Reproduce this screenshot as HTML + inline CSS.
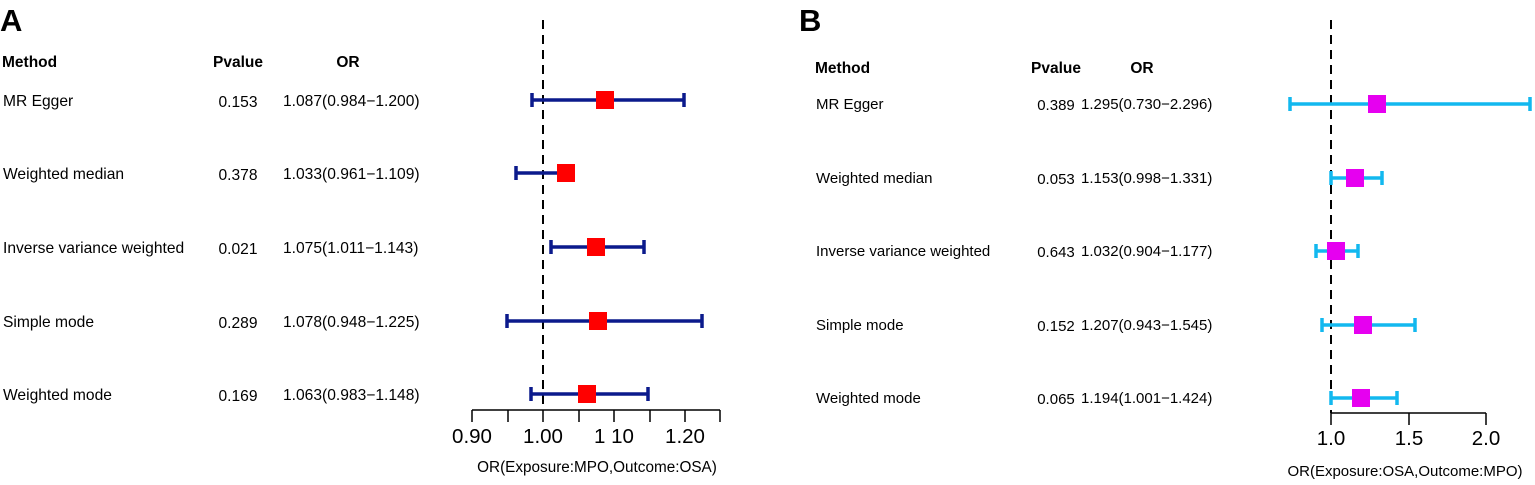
<!DOCTYPE html>
<html><head><meta charset="utf-8"><style>
html,body{margin:0;padding:0;background:#fff;}
svg{display:block;font-family:"Liberation Sans",Arial,sans-serif;}
</style></head><body>
<svg width="1535" height="485" viewBox="0 0 1535 485" xmlns="http://www.w3.org/2000/svg">
<!-- Panel A -->
<text x="0" y="31" font-size="31" font-weight="bold">A</text>
<g font-size="15.5" font-weight="bold">
<text x="2" y="67">Method</text>
<text x="238" y="67" text-anchor="middle">Pvalue</text>
<text x="348" y="67" text-anchor="middle">OR</text>
</g>
<g font-size="15.6">
<text x="3" y="106">MR Egger</text><text x="238" y="107" text-anchor="middle">0.153</text><text x="283" y="106">1.087(0.984−1.200)</text>
<text x="3" y="179">Weighted median</text><text x="238" y="180" text-anchor="middle">0.378</text><text x="283" y="179">1.033(0.961−1.109)</text>
<text x="3" y="253">Inverse variance weighted</text><text x="238" y="254" text-anchor="middle">0.021</text><text x="283" y="253">1.075(1.011−1.143)</text>
<text x="3" y="327">Simple mode</text><text x="238" y="328" text-anchor="middle">0.289</text><text x="283" y="327">1.078(0.948−1.225)</text>
<text x="3" y="400">Weighted mode</text><text x="238" y="401" text-anchor="middle">0.169</text><text x="283" y="400">1.063(0.983−1.148)</text>
</g>
<line x1="543" y1="20" x2="543" y2="410" stroke="#000" stroke-width="2" stroke-dasharray="9,6"/>
<g stroke="#0b1a8c" stroke-width="3.5" fill="none">
<path d="M532 100H684M532 93V107M684 93V107"/>
<path d="M516 173H570M516 166V180M570 166V180"/>
<path d="M551 247H644M551 240V254M644 240V254"/>
<path d="M507 321H702M507 314V328M702 314V328"/>
<path d="M531 394H648M531 387V401M648 387V401"/>
</g>
<g fill="#f00">
<rect x="596" y="91" width="18" height="18"/>
<rect x="557" y="164" width="18" height="18"/>
<rect x="587" y="238" width="18" height="18"/>
<rect x="589" y="312" width="18" height="18"/>
<rect x="578" y="385" width="18" height="18"/>
</g>
<g stroke="#000" stroke-width="1.5">
<path d="M472 410H720"/>
<path d="M472 410V422M508 410V422M543 410V422M579 410V422M614 410V422M650 410V422M685 410V422M720 410V422"/>
</g>
<g font-size="20.5" text-anchor="middle">
<text x="472" y="443">0.90</text><text x="543" y="443">1.00</text><text x="614" y="443">1 10</text><text x="685" y="443">1.20</text>
</g>
<text x="597" y="472" font-size="15.3" text-anchor="middle">OR(Exposure:MPO,Outcome:OSA)</text>

<!-- Panel B -->
<text x="799" y="31" font-size="31" font-weight="bold">B</text>
<g font-size="15.5" font-weight="bold">
<text x="815" y="73">Method</text>
<text x="1056" y="73" text-anchor="middle">Pvalue</text>
<text x="1142" y="73" text-anchor="middle">OR</text>
</g>
<g font-size="15">
<text x="816" y="109">MR Egger</text><text x="1056" y="110" text-anchor="middle">0.389</text><text x="1081" y="109">1.295(0.730−2.296)</text>
<text x="816" y="183">Weighted median</text><text x="1056" y="184" text-anchor="middle">0.053</text><text x="1081" y="183">1.153(0.998−1.331)</text>
<text x="816" y="256">Inverse variance weighted</text><text x="1056" y="257" text-anchor="middle">0.643</text><text x="1081" y="256">1.032(0.904−1.177)</text>
<text x="816" y="330">Simple mode</text><text x="1056" y="331" text-anchor="middle">0.152</text><text x="1081" y="330">1.207(0.943−1.545)</text>
<text x="816" y="403">Weighted mode</text><text x="1056" y="404" text-anchor="middle">0.065</text><text x="1081" y="403">1.194(1.001−1.424)</text>
</g>
<line x1="1331" y1="20" x2="1331" y2="413" stroke="#000" stroke-width="2" stroke-dasharray="9,6"/>
<g stroke="#12b8ef" stroke-width="3.5" fill="none">
<path d="M1290 104H1530M1290 97V111M1530 97V111"/>
<path d="M1331 178H1382M1331 171V185M1382 171V185"/>
<path d="M1316 251H1358M1316 244V258M1358 244V258"/>
<path d="M1322 325H1415M1322 318V332M1415 318V332"/>
<path d="M1331 398H1397M1331 391V405M1397 391V405"/>
</g>
<g fill="#e600f0">
<rect x="1368" y="95" width="18" height="18"/>
<rect x="1346" y="169" width="18" height="18"/>
<rect x="1327" y="242" width="18" height="18"/>
<rect x="1354" y="316" width="18" height="18"/>
<rect x="1352" y="389" width="18" height="18"/>
</g>
<g stroke="#000" stroke-width="1.5">
<path d="M1331 413H1486"/>
<path d="M1331 413V425M1409 413V425M1486 413V425"/>
</g>
<g font-size="20.5" text-anchor="middle">
<text x="1331" y="445">1.0</text><text x="1409" y="445">1.5</text><text x="1486" y="445">2.0</text>
</g>
<text x="1405" y="476" font-size="15" text-anchor="middle">OR(Exposure:OSA,Outcome:MPO)</text>
</svg>
</body></html>
